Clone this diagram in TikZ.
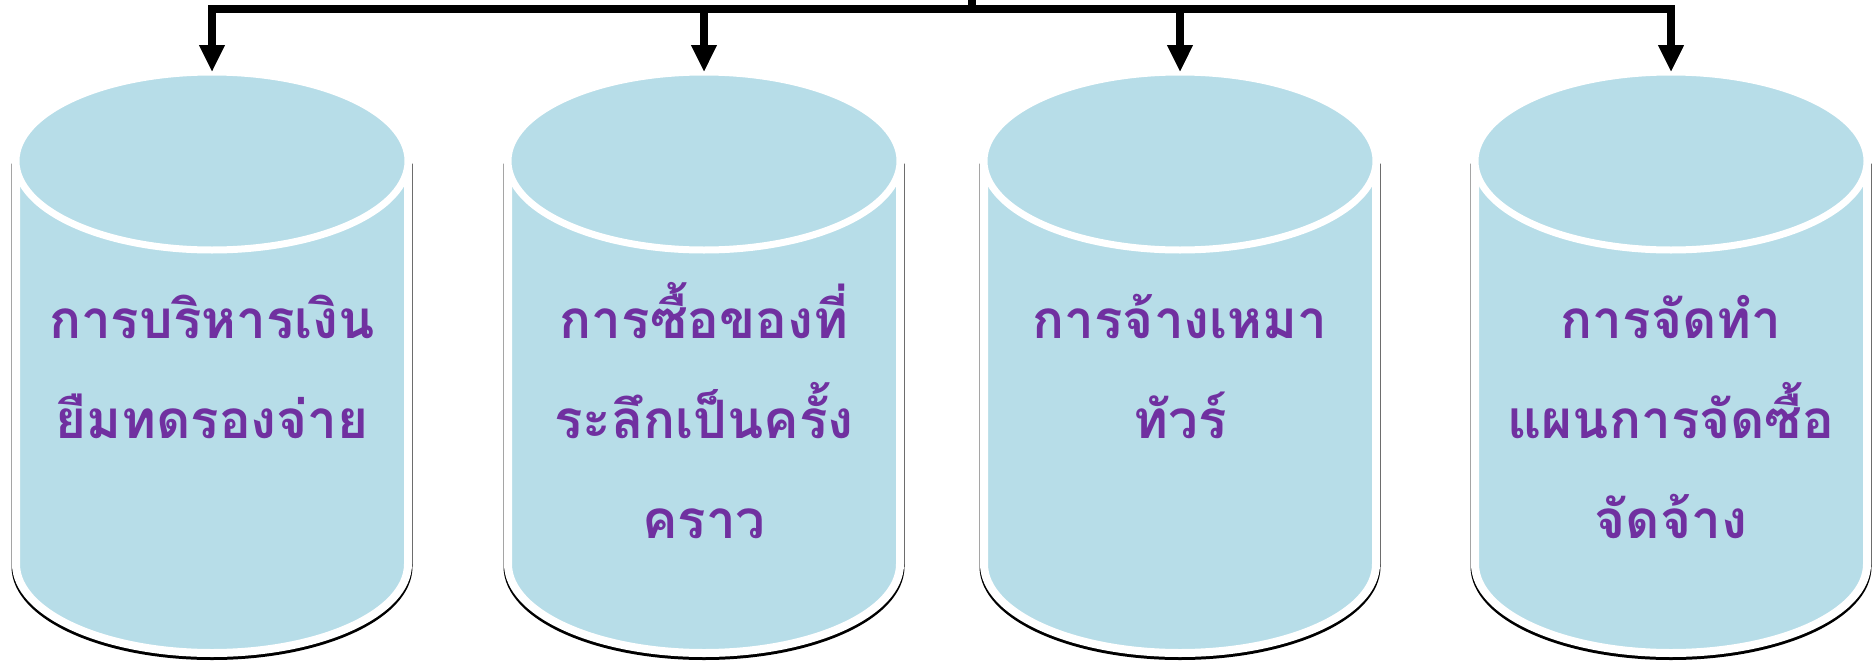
\documentclass[tikz,border=0pt]{standalone}
\usepackage{fontspec}
\usepackage{xcolor}
\usetikzlibrary{arrows.meta}
\newfontfamily\thaifont[Script=Thai]{Loma}
\definecolor{drumblue}{HTML}{B7DDE8}
\definecolor{drumtext}{HTML}{7030A0}
\tikzset{
  bus/.style={line width=8pt,line cap=rect},
  feed/.style={line width=7.5pt,-{Triangle[width=24pt,length=27pt]}},
  drumtitle/.style={anchor=base,align=center,text=drumtext,
    font=\thaifont\bfseries\fontsize{53}{100}\selectfont}
}
% one drum: #1 = centre x
\newcommand{\drum}[1]{%
  \draw [black,line width=9pt,shift={(0,2.5)}] (#1-196,161) -- (#1-196,564)
    arc (180:0:196 and 89) -- (#1+196,161);
  \draw [white,line width=8pt,fill=drumblue] (#1-196,161) -- (#1-196,564)
    arc (180:0:196 and 89) -- (#1+196,161);
  \draw [white,line width=7pt,fill=drumblue] (#1,161) ellipse (196 and 89);
}
\begin{document}
\begin{tikzpicture}[x=1pt,y=-1pt]
\useasboundingbox (0,0) rectangle (1874,664);
\fill [white] (0,0) rectangle (1874,664);

\drum{212}
\drum{704}
\drum{1180}
\drum{1671}

\coordinate (hub) at (972,0);
\coordinate (b1) at (212,9);
\coordinate (b2) at (704,9);
\coordinate (b3) at (1180,9);
\coordinate (b4) at (1671,9);
\coordinate (top1) at (212,72);
\coordinate (top2) at (704,72);
\coordinate (top3) at (1180,72);
\coordinate (top4) at (1671,72);

% shadow under the bus
\draw [bus,black!35,shift={(0,5)}] (b1) -- (b4);
\foreach \i in {1,...,4}
  \draw [feed,black!40,shift={(-1.5,2)}] (b\i) -- (top\i);
\draw [bus] (b1) -- (b4);
\draw [bus] (hub) -- (hub |- b1);
\foreach \i in {1,...,4}
  \draw [feed] (b\i) -- (top\i);

% base anchor sits on the last line
\node [drumtitle] (t1) at (212,438) {การบริหารเงิน\\ยืมทดรองจ่าย};
\node [drumtitle] (t2) at (704,538) {การซื้อของที่\\ระลึกเป็นครั้ง\\คราว};
\node [drumtitle] (t3) at (1180,438) {การจ้างเหมา\\ทัวร์};
\node [drumtitle] (t4) at (1671,538) {การจัดทำ\\แผนการจัดซื้อ\\จัดจ้าง};
\end{tikzpicture}
\end{document}
